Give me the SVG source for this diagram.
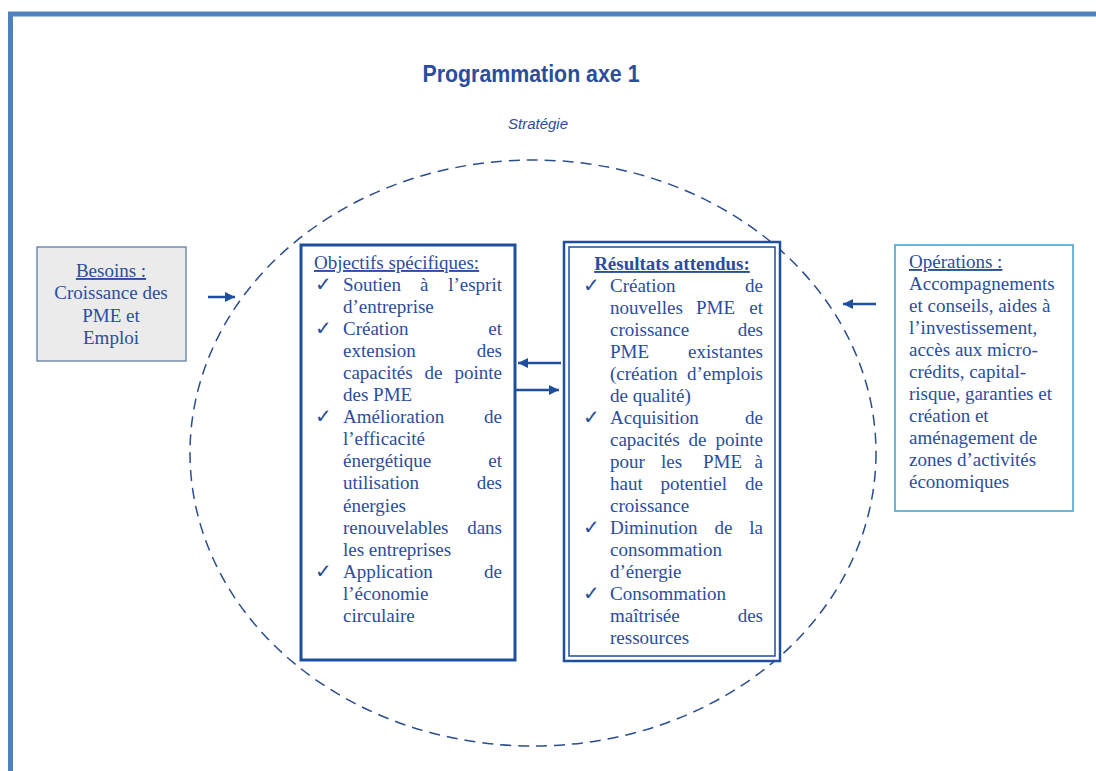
<svg xmlns="http://www.w3.org/2000/svg" width="1096" height="771" viewBox="0 0 1096 771">
<defs>
<marker id="ah" viewBox="0 0 10 10" refX="10" refY="5" markerWidth="11" markerHeight="10" markerUnits="userSpaceOnUse" orient="auto">
<path d="M0,0 L10,5 L0,10 z" fill="#1f4e9c"/>
</marker>
<style>
.t{font-family:"Liberation Serif","Times New Roman",serif;font-size:19px;fill:#2b4d9e}
.e{text-anchor:end}
.m{text-anchor:middle}
.ck{font-family:"DejaVu Sans",sans-serif;font-size:20px;fill:#2b4d9e}
.u{text-decoration:underline}
.conn{stroke:#1f4e9c;stroke-width:2.5;fill:none;marker-end:url(#ah)}
</style>
</defs>
<rect width="1096" height="771" fill="#ffffff"/>
<path d="M10.5 771 V14 H1096" fill="none" stroke="#4f81bd" stroke-width="5"/>
<text x="531" y="82" text-anchor="middle" font-family="Liberation Sans, Arial, sans-serif" font-weight="bold" font-size="23" fill="#2b4d9e" textLength="217" lengthAdjust="spacingAndGlyphs">Programmation axe 1</text>
<text x="538" y="129" text-anchor="middle" font-family="Liberation Sans, Arial, sans-serif" font-style="italic" font-size="15" fill="#2b4d9e">Stratégie</text>
<ellipse id="strategie" cx="533" cy="453" rx="343" ry="293" fill="none" stroke="#2a4d8f" stroke-width="1.5" stroke-dasharray="11 7"/>

<g id="besoins">
<rect x="37" y="247" width="149" height="114" fill="#ebebeb" stroke="#5f7fa3" stroke-width="1.3"/>
<text class="t" text-anchor="middle"><tspan class="u" x="111" y="277">Besoins :</tspan><tspan x="111" y="299">Croissance des</tspan><tspan x="111" y="322">PME et</tspan><tspan x="111" y="344">Emploi</tspan></text>
</g>

<g id="objectifs">
<rect x="301" y="245" width="214" height="415" fill="#ffffff" stroke="#1f4e9c" stroke-width="3"/>
<text class="t u" x="314" y="269">Objectifs spécifiques:</text>
<text class="ck" x="315" y="291">✓</text>
<text class="ck" x="315" y="335">✓</text>
<text class="ck" x="315" y="423">✓</text>
<text class="ck" x="315" y="578">✓</text>
<text class="t" x="343" y="291">Soutien</text><text class="t" x="420" y="291">à</text><text class="t e" x="502" y="291">l’esprit</text>
<text class="t" x="343" y="313">d’entreprise</text>
<text class="t" x="343" y="335">Création</text><text class="t e" x="502" y="335">et</text>
<text class="t" x="343" y="357">extension</text><text class="t e" x="502" y="357">des</text>
<text class="t" x="343" y="379">capacités</text><text class="t m" x="433.5" y="379">de</text><text class="t e" x="502" y="379">pointe</text>
<text class="t" x="343" y="401">des PME</text>
<text class="t" x="343" y="423">Amélioration</text><text class="t e" x="502" y="423">de</text>
<text class="t" x="343" y="445">l’efficacité</text>
<text class="t" x="343" y="467">énergétique</text><text class="t e" x="502" y="467">et</text>
<text class="t" x="343" y="489">utilisation</text><text class="t e" x="502" y="489">des</text>
<text class="t" x="343" y="512">énergies</text>
<text class="t" x="343" y="534">renouvelables</text><text class="t e" x="502" y="534">dans</text>
<text class="t" x="343" y="556">les entreprises</text>
<text class="t" x="343" y="578">Application</text><text class="t e" x="502" y="578">de</text>
<text class="t" x="343" y="600">l’économie</text>
<text class="t" x="343" y="622">circulaire</text>
</g>

<g id="resultats">
<rect x="564" y="242" width="216" height="419" fill="#ffffff" stroke="#1f4e9c" stroke-width="2.5"/>
<rect x="569" y="247" width="206" height="409" fill="none" stroke="#1f4e9c" stroke-width="1.5"/>
<text class="t u" x="672" y="270" text-anchor="middle" font-weight="bold">Résultats attendus:</text>
<text class="ck" x="583" y="292">✓</text>
<text class="ck" x="583" y="424">✓</text>
<text class="ck" x="583" y="534">✓</text>
<text class="ck" x="583" y="600">✓</text>
<text class="t" x="610" y="292">Création</text><text class="t e" x="763" y="292">de</text>
<text class="t" x="610" y="314">nouvelles</text><text class="t" x="696" y="314">PME</text><text class="t e" x="763" y="314">et</text>
<text class="t" x="610" y="336">croissance</text><text class="t e" x="763" y="336">des</text>
<text class="t" x="610" y="358">PME</text><text class="t e" x="763" y="358">existantes</text>
<text class="t" x="610" y="380">(création</text><text class="t e" x="763" y="380">d’emplois</text>
<text class="t" x="610" y="402">de qualité)</text>
<text class="t" x="610" y="424">Acquisition</text><text class="t e" x="763" y="424">de</text>
<text class="t" x="610" y="446">capacités</text><text class="t m" x="697.5" y="446">de</text><text class="t e" x="763" y="446">pointe</text>
<text class="t" x="610" y="468">pour</text><text class="t" x="661" y="468">les</text><text class="t" x="703" y="468">PME</text><text class="t e" x="763" y="468">à</text>
<text class="t" x="610" y="490">haut</text><text class="t" x="660.5" y="490">potentiel</text><text class="t e" x="763" y="490">de</text>
<text class="t" x="610" y="512">croissance</text>
<text class="t" x="610" y="534">Diminution</text><text class="t" x="714.5" y="534">de</text><text class="t e" x="763" y="534">la</text>
<text class="t" x="610" y="556">consommation</text>
<text class="t" x="610" y="578">d’énergie</text>
<text class="t" x="610" y="600">Consommation</text>
<text class="t" x="610" y="622">maîtrisée</text><text class="t e" x="763" y="622">des</text>
<text class="t" x="610" y="644">ressources</text>
</g>

<g id="operations">
<rect x="895" y="245" width="178" height="266" fill="#ffffff" stroke="#3aa0c8" stroke-width="1.5"/>
<text class="t"><tspan class="u" x="909" y="268">Opérations :</tspan><tspan x="909" y="290">Accompagnements</tspan><tspan x="909" y="312">et conseils, aides à</tspan><tspan x="909" y="334">l’investissement,</tspan><tspan x="909" y="356">accès aux micro-</tspan><tspan x="909" y="378">crédits, capital-</tspan><tspan x="909" y="400">risque, garanties et</tspan><tspan x="909" y="422">création et</tspan><tspan x="909" y="444">aménagement de</tspan><tspan x="909" y="466">zones d’activités</tspan><tspan x="909" y="488">économiques</tspan></text>
</g>

<g id="connectors">
<line class="conn" x1="208" y1="297" x2="235" y2="297"/>
<line class="conn" x1="561" y1="363" x2="518" y2="363"/>
<line class="conn" x1="516" y1="390" x2="559" y2="390"/>
<line class="conn" x1="876" y1="304" x2="843" y2="304"/>
</g>
</svg>
